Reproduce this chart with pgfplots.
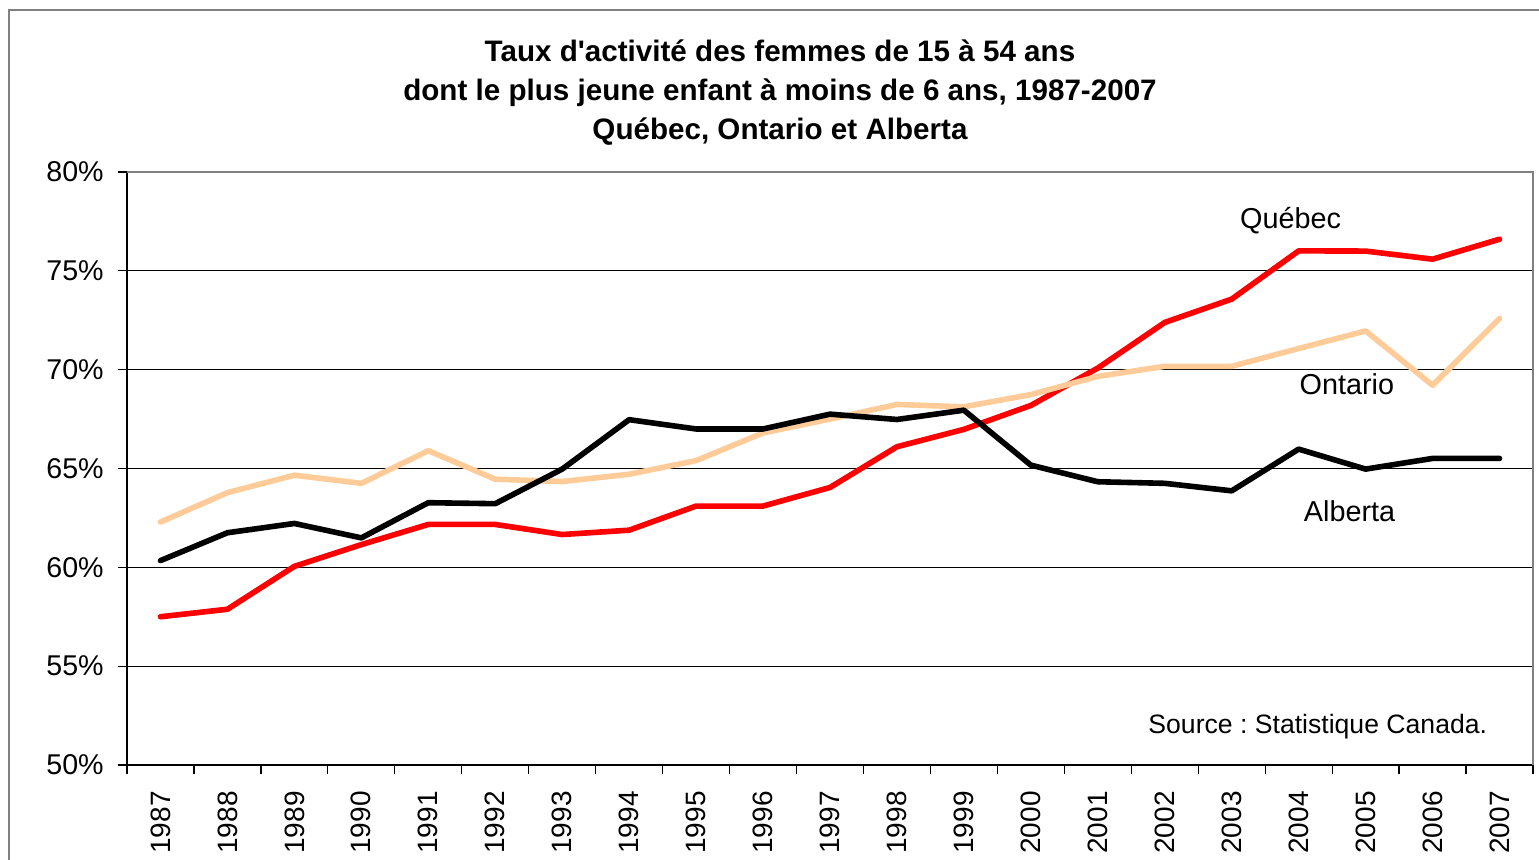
\documentclass[border=0pt]{standalone}
\usepackage{pgfplots}
\pgfplotsset{compat=1.18}
\usepackage{fontspec}
\setmainfont{Liberation Sans}

\definecolor{quebec}{RGB}{255,0,0}
\definecolor{ontario}{RGB}{255,204,153}
\definecolor{alberta}{RGB}{0,0,0}
\definecolor{framegray}{RGB}{128,128,128}

% one unit = one pixel of the reference (0.5pt)
\begin{document}
\frenchspacing
\begin{tikzpicture}[x=0.5pt,y=0.5pt]
\useasboundingbox (0,0) rectangle (1539,859);
\draw[framegray, line width=1pt] (9,-20) -- (9,849) -- (1560,849);
\coordinate (plotSW) at (127,94);

\node[font=\fontsize{14.8}{16}\selectfont\bfseries, anchor=base] at (780,797) {Taux d\textquotesingle activité des femmes de 15 à 54 ans};
\node[font=\fontsize{14.8}{16}\selectfont\bfseries, anchor=base] at (780,758) {dont le plus jeune enfant à moins de 6 ans, 1987-2007};
\node[font=\fontsize{14.8}{16}\selectfont\bfseries, anchor=base] at (780,719) {Québec, Ontario et Alberta};

\begin{axis}[
  at={(plotSW)}, anchor=south west,
  scale only axis, width=703pt, height=296.5pt,
  xmin=-0.5, xmax=20.5, ymin=50, ymax=80,
  axis x line=bottom, axis y line=left,
  axis line style={-, line width=1pt, black},
  xtick={0,...,20},
  xticklabels={1987,1988,1989,1990,1991,1992,1993,1994,1995,1996,1997,1998,1999,2000,2001,2002,2003,2004,2005,2006,2007},
  major x tick style={draw=none},
  minor xtick={-0.5,0.5,...,20.5},
  minor x tick style={black, line width=0.6pt},
  minor tick length=4.5pt,
  ytick={50,55,...,80},
  yticklabels={50\%,55\%,60\%,65\%,70\%,75\%,80\%},
  major y tick style={black, line width=0.6pt},
  major tick length=4.5pt,
  tick align=outside,
  ymajorgrids, major grid style={black, line width=0.5pt},
  xticklabel style={font=\fontsize{14}{16}\selectfont, rotate=90, anchor=east, inner sep=0pt, xshift=-8.5pt},
  yticklabel style={font=\fontsize{14.3}{16}\selectfont, anchor=east, inner sep=0pt, xshift=-7pt},
  clip=false,
  every axis plot/.append style={line width=2.8pt, line join=round, line cap=round, no marks},
]
\draw[framegray, line width=1.2pt] (rel axis cs:0,1) -- (rel axis cs:1,1) -- (rel axis cs:1,0);

% Quebec
\addplot[quebec] coordinates {
(0,57.5) (1,57.88) (2,60.05) (3,61.15) (4,62.17) (5,62.17) (6,61.66) (7,61.88)
(8,63.1) (9,63.1) (10,64.04) (11,66.1) (12,66.98) (13,68.19) (14,70.08)
(15,72.39) (16,73.57) (17,76.01) (18,76.0) (19,75.59) (20,76.6)};
% Ontario
\addplot[ontario] coordinates {
(0,62.29) (1,63.78) (2,64.66) (3,64.25) (4,65.9) (5,64.46) (6,64.34) (7,64.71)
(8,65.4) (9,66.8) (10,67.5) (11,68.24) (12,68.12) (13,68.74) (14,69.66)
(15,70.17) (16,70.17) (17,71.07) (18,71.96) (19,69.21) (20,72.59)};
% Alberta
\addplot[alberta] coordinates {
(0,60.34) (1,61.75) (2,62.22) (3,61.49) (4,63.27) (5,63.22) (6,64.97) (7,67.47)
(8,67.0) (9,67.0) (10,67.75) (11,67.48) (12,67.95) (13,65.17) (14,64.33)
(15,64.25) (16,63.87) (17,65.98) (18,64.97) (19,65.51) (20,65.51)};

\node[font=\fontsize{14.4}{16}\selectfont] at (axis cs:16.88,77.52) {Québec};
\node[font=\fontsize{14.4}{16}\selectfont] at (axis cs:17.72,69.27) {Ontario};
\node[font=\fontsize{14.4}{16}\selectfont] at (axis cs:17.76,62.85) {Alberta};
\node[font=\fontsize{13.3}{16}\selectfont, anchor=east, inner sep=0pt] at (axis cs:19.82,51.92) {Source : Statistique Canada.};
\end{axis}
\end{tikzpicture}
\end{document}
